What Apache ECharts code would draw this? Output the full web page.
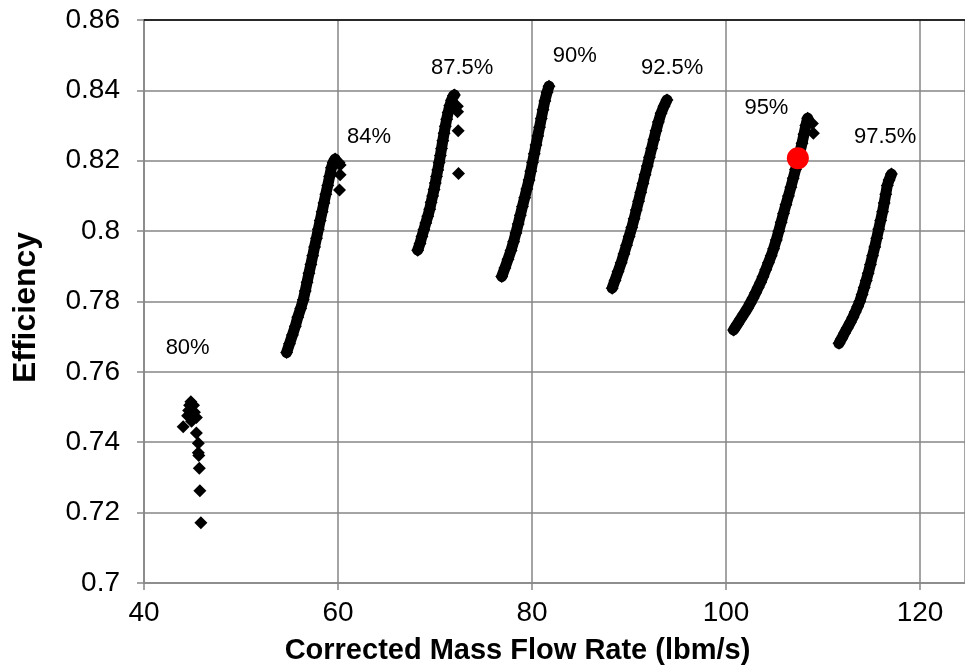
<!DOCTYPE html>
<html>
<head>
<meta charset="utf-8">
<script src="https://cdn.jsdelivr.net/npm/echarts@6/dist/echarts.min.js"></script>
<style>
  html, body { margin: 0; padding: 0; background: #fff; }
  #chart { width: 965px; height: 671px; }
</style>
</head>
<body>
<div id="chart"></div>
<script>
// [corrected mass flow (lbm/s), efficiency]
const speed80 = [
  [44.83, 0.7515], [44.7, 0.7505], [45.1, 0.7505], [44.6, 0.749], [45.2, 0.7485],
  [44.5, 0.7475], [45.4, 0.747], [44.9, 0.746], [44.04, 0.7444], [45.4, 0.7426],
  [45.6, 0.7397], [45.6, 0.737], [45.65, 0.7362], [45.7, 0.7326], [45.76, 0.7262],
  [45.86, 0.7171],
]
const speed84 = [
  [54.7, 0.7655], [55.0, 0.768], [55.3, 0.7705], [55.6, 0.773], [55.85, 0.7755],
  [56.15, 0.778], [56.42, 0.7805], [56.62, 0.783], [56.81, 0.7855], [57.0, 0.788],
  [57.2, 0.7905], [57.39, 0.793], [57.58, 0.7955], [57.78, 0.798], [57.97, 0.8005],
  [58.16, 0.803], [58.36, 0.8055], [58.55, 0.808], [58.74, 0.8105], [58.94, 0.813],
  [59.13, 0.8155], [59.32, 0.818], [59.5, 0.8195], [59.7, 0.8205],
]
const speed875 = [
  [68.21, 0.7946], [68.45, 0.7965], [68.65, 0.7985], [68.85, 0.8004], [69.05, 0.8023],
  [69.25, 0.8042], [69.45, 0.8062], [69.6, 0.8082], [69.75, 0.81], [69.9, 0.8118],
  [70.03, 0.8137], [70.15, 0.8155], [70.28, 0.8174], [70.42, 0.8195], [70.55, 0.8215],
  [70.67, 0.8235], [70.8, 0.8257], [70.93, 0.8278], [71.06, 0.8298], [71.2, 0.8318],
  [71.35, 0.8337], [71.52, 0.8356], [71.7, 0.8372], [71.9, 0.8385], [72.0, 0.8387],
]
const speed90 = [
  [76.88, 0.7871], [77.2, 0.7895], [77.52, 0.792], [77.83, 0.7945], [78.1, 0.797],
  [78.34, 0.7995], [78.57, 0.802], [78.79, 0.8045], [79.01, 0.807], [79.24, 0.8095],
  [79.46, 0.812], [79.69, 0.8145], [79.87, 0.817], [80.05, 0.8195], [80.23, 0.822],
  [80.41, 0.8245], [80.59, 0.827], [80.77, 0.8295], [80.95, 0.832], [81.13, 0.8345],
  [81.32, 0.837], [81.55, 0.8395], [81.75, 0.8412],
]
const speed925 = [
  [88.26, 0.7838], [88.55, 0.786], [88.87, 0.7885], [89.19, 0.791], [89.47, 0.7935],
  [89.74, 0.796], [90.01, 0.7985], [90.28, 0.801], [90.52, 0.8035], [90.75, 0.806],
  [90.98, 0.8085], [91.2, 0.811], [91.43, 0.8135], [91.65, 0.816], [91.88, 0.8185],
  [92.1, 0.821], [92.33, 0.8235], [92.55, 0.826], [92.78, 0.8285], [93.02, 0.831],
  [93.3, 0.8335], [93.6, 0.8355], [93.91, 0.8373],
]
const speed95 = [
  [100.77, 0.7719], [101.15, 0.7735], [101.5, 0.775], [101.85, 0.7765], [102.19, 0.778],
  [102.49, 0.7795], [102.78, 0.781], [103.05, 0.7825], [103.31, 0.784], [103.57, 0.7855],
  [103.8, 0.787], [104.09, 0.789], [104.37, 0.791], [104.65, 0.793], [104.9, 0.795],
  [105.18, 0.7975], [105.43, 0.8], [105.68, 0.8025], [105.92, 0.805], [106.17, 0.8075],
  [106.43, 0.81], [106.68, 0.8125], [106.92, 0.815], [107.16, 0.8175], [107.4, 0.82],
  [107.62, 0.8225], [107.83, 0.825], [108.03, 0.8275], [108.22, 0.83], [108.41, 0.8321],
]
const speed975 = [
  [111.64, 0.7681], [111.92, 0.7695], [112.2, 0.771], [112.5, 0.7725], [112.8, 0.774],
  [113.07, 0.7755], [113.32, 0.777], [113.56, 0.7785], [113.78, 0.78], [114.02, 0.782],
  [114.24, 0.784], [114.45, 0.786], [114.65, 0.788], [114.88, 0.7905], [115.1, 0.793],
  [115.33, 0.7955], [115.53, 0.798], [115.73, 0.8005], [115.93, 0.803], [116.13, 0.8055],
  [116.3, 0.808], [116.46, 0.8105], [116.62, 0.813], [116.8, 0.8145], [117.05, 0.8162],
]
// loose points near the top of some speed lines
const strayPoints = [
  [60.1, 0.8195], [60.22, 0.8188], [60.22, 0.816], [60.15, 0.8117],
  [72.3, 0.8355], [72.32, 0.8339], [72.39, 0.8285], [72.42, 0.8164],
  [108.9, 0.8306], [109.0, 0.8278],
]
const operatingPoint = [[107.4, 0.8207]]
// speed labels: [flow, efficiency, text]
const speedLabels = [
  [44.5, 0.7667, '80%'],
  [63.19, 0.8268, '84%'],
  [72.8, 0.8465, '87.5%'],
  [84.4, 0.8497, '90%'],
  [94.45, 0.8463, '92.5%'],
  [104.16, 0.835, '95%'],
  [116.4, 0.8267, '97.5%'],
]

const FONT = '"Liberation Sans", Arial, sans-serif'
const AXIS_GREY = '#868686'

const chart = echarts.init(document.getElementById('chart'))

const bandSeries = [speed84, speed875, speed90, speed925, speed95, speed975].map(pts => ({
  type: 'line',
  data: pts,
  symbol: 'diamond',
  symbolSize: 13,
  lineStyle: { color: '#000', width: 11, cap: 'round', join: 'round', opacity: 1 },
  itemStyle: { color: '#000', opacity: 1 },
  silent: true,
  z: 3,
}))

chart.setOption({
  animation: false,
  textStyle: { fontFamily: FONT },
  grid: { left: 144, top: 20, width: 823, height: 563 },
  xAxis: [
    {
      type: 'value',
      min: 40,
      max: 124.63,
      interval: 20,
      name: 'Corrected Mass Flow Rate (lbm/s)',
      nameLocation: 'middle',
      nameGap: 53,
      nameTextStyle: {
        fontSize: 29, fontWeight: 'bold', color: '#000', fontFamily: FONT,
        padding: [0, 74, 0, 0],
      },
      axisLine: { lineStyle: { color: AXIS_GREY, width: 1.5 } },
      axisTick: { show: true, length: 7, lineStyle: { color: AXIS_GREY, width: 1.5 } },
      axisLabel: {
        fontSize: 28, color: '#000', margin: 16, fontFamily: FONT,
        showMaxLabel: false,
        formatter: v => (v % 20 === 0 ? String(v) : ''),
      },
      splitLine: { show: true, lineStyle: { color: AXIS_GREY, width: 1.5 } },
    },
    {
      type: 'value',
      position: 'top',
      min: 40,
      max: 124.63,
      axisLine: { show: true, onZero: false, lineStyle: { color: '#000', width: 1.5 } },
      axisTick: { show: false },
      axisLabel: { show: false },
      splitLine: { show: false },
    },
  ],
  yAxis: {
    type: 'value',
    min: 0.7,
    max: 0.86,
    interval: 0.02,
    name: 'Efficiency',
    nameLocation: 'middle',
    nameGap: 102,
    nameTextStyle: {
      fontSize: 32, fontWeight: 'bold', color: '#000', fontFamily: FONT,
      padding: [0, 12, 0, 0],
    },
    axisLine: { show: true, lineStyle: { color: AXIS_GREY, width: 1.5 } },
    axisTick: { show: true, length: 7, lineStyle: { color: AXIS_GREY, width: 1.5 } },
    axisLabel: { fontSize: 28, color: '#000', margin: 24, fontFamily: FONT },
    splitLine: { show: true, lineStyle: { color: AXIS_GREY, width: 1.5 } },
  },
  series: [
    {
      type: 'scatter',
      data: speed80,
      symbol: 'diamond',
      symbolSize: 13,
      itemStyle: { color: '#000', opacity: 1 },
      z: 3,
    },
    ...bandSeries,
    {
      type: 'scatter',
      data: strayPoints,
      symbol: 'diamond',
      symbolSize: 13,
      itemStyle: { color: '#000', opacity: 1 },
      z: 3,
    },
    {
      type: 'scatter',
      data: operatingPoint,
      symbol: 'circle',
      symbolSize: 22,
      itemStyle: { color: '#ff0000', opacity: 1 },
      z: 5,
    },
    {
      type: 'scatter',
      data: speedLabels,
      symbolSize: 0,
      silent: true,
      itemStyle: { opacity: 1 },
      label: {
        show: true,
        position: 'inside',
        formatter: p => p.data[2],
        fontSize: 22,
        color: '#000',
        fontFamily: FONT,
      },
      z: 6,
    },
  ],
})
</script>
</body>
</html>
